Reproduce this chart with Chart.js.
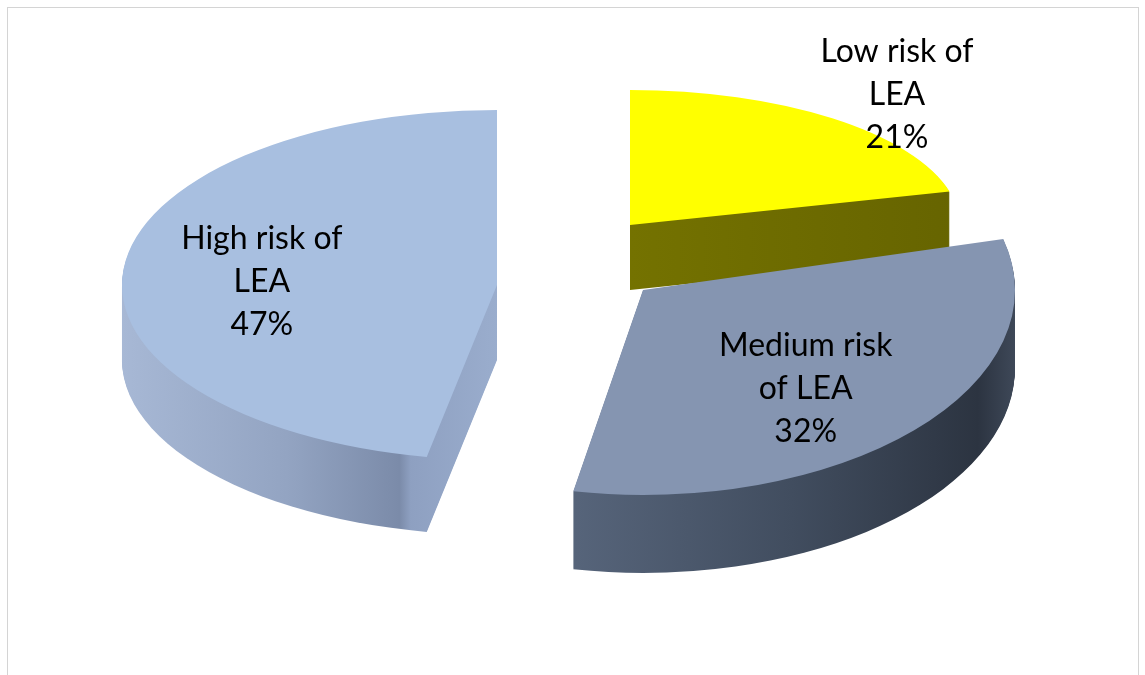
<!DOCTYPE html>
<html>
<head>
<meta charset="utf-8">
<title>Risk of LEA</title>
<script src="https://cdn.jsdelivr.net/npm/chart.js@4.4.1/dist/chart.umd.min.js"></script>
<style>
  html, body { margin: 0; padding: 0; background: #fff; }
  .frame { position: absolute; left: 7px; top: 7px; width: 1130px; height: 700px; border: 1px solid #d4d4d4; }
  .wrap { position: absolute; left: 0; top: 0; width: 1145px; height: 675px; }
</style>
</head>
<body>
<div class="frame"></div>
<div class="wrap"><canvas id="riskChart"></canvas></div>
<script>
const categories = ['Low risk of LEA', 'Medium risk of LEA', 'High risk of LEA'];
const labelLines = [['Low risk of', 'LEA'], ['Medium risk', 'of LEA'], ['High risk of', 'LEA']];
const shares = [21, 32, 47];

const topColors = ['#ffff00', '#8595b1', '#a8bfe0'];

// fake 3d: explode shift, radii of the tilted top, depth, side shading, label spot
const slice3d = [
  { dx: 65, dy: -50, rx: 330, ry: 135, depth: 65,
    side: [[0, '#7a7800'], [0.5, '#747200'], [1, '#666400']], label: [1.32, 1.22] },
  { dx: 78, dy: 15, rx: 372, ry: 205, depth: 78,
    side: [[0, '#5a687e'], [0.41, '#56647a'], [0.7, '#414d5f'], [0.95, '#2c3441'], [1, '#3e4858']], label: [0.6, 0.7] },
  { dx: -68, dy: 10, rx: 375, ry: 175, depth: 75,
    side: [[0, '#a7b8d5'], [0.22, '#93a4c2'], [0.37, '#7b8ba9'], [0.385, '#8ea0c1'], [0.5, '#9aadcd'], [1, '#9aadcd']], label: [0.63, 0.2] }
];
const drawOrder = [0, 2, 1]; // back to front

const pie3d = {
  id: 'pie3d',
  beforeDatasetsDraw(chart) {
    const ctx = chart.ctx;
    const arcs = chart.getDatasetMeta(0).data;
    drawOrder.forEach(i => {
      const arc = arcs[i];
      const s = slice3d[i];
      const p = arc.getProps(['x', 'y', 'startAngle', 'endAngle', 'outerRadius']);
      const kx = s.rx / p.outerRadius, ky = s.ry / p.outerRadius;
      const cx = p.x + s.dx, cy = p.y + s.dy;

      const g = ctx.createLinearGradient(cx - s.rx, 0, cx + s.rx, 0);
      s.side.forEach(st => g.addColorStop(st[0], st[1]));
      for (let d = s.depth; d > 0; d--) {
        ctx.save();
        ctx.translate(cx, cy + d);
        ctx.scale(kx, ky);
        ctx.beginPath();
        ctx.moveTo(0, 0);
        ctx.arc(0, 0, p.outerRadius, p.startAngle, p.endAngle);
        ctx.closePath();
        ctx.restore();
        ctx.fillStyle = g;
        ctx.fill();
      }

      ctx.save();
      ctx.translate(cx, cy);
      ctx.scale(kx, ky);
      ctx.translate(-p.x, -p.y);
      arc.draw(ctx);
      ctx.restore();
    });
    return false;
  },
  afterDraw(chart) {
    const ctx = chart.ctx;
    const arcs = chart.getDatasetMeta(0).data;
    ctx.save();
    ctx.fillStyle = '#000';
    ctx.font = '32px Lato, "Open Sans", sans-serif';
    ctx.textAlign = 'center';
    ctx.textBaseline = 'middle';
    arcs.forEach((arc, i) => {
      const s = slice3d[i];
      const p = arc.getProps(['x', 'y', 'startAngle', 'endAngle']);
      const mid = (p.startAngle + p.endAngle) / 2;
      const lx = p.x + s.dx + Math.cos(mid) * s.rx * s.label[0];
      const ly = p.y + s.dy + Math.sin(mid) * s.ry * s.label[1];
      const lines = labelLines[i].concat([shares[i] + '%']);
      lines.forEach((t, j) => ctx.fillText(t, lx, ly + (j - 1) * 43));
    });
    ctx.restore();
  }
};

new Chart(document.getElementById('riskChart'), {
  type: 'pie',
  data: {
    labels: categories,
    datasets: [{
      data: shares,
      backgroundColor: topColors,
      borderWidth: 0
    }]
  },
  options: {
    responsive: true,
    maintainAspectRatio: false,
    animation: false,
    radius: 300,
    layout: { padding: { left: 0, right: 15, top: 0, bottom: 125 } },
    plugins: {
      legend: { display: false },
      tooltip: { enabled: false }
    }
  },
  plugins: [pie3d]
});
</script>
</body>
</html>
